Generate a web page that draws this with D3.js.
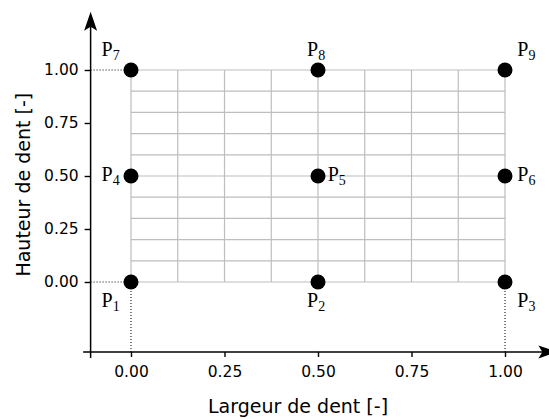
<!DOCTYPE html>
<html>
<head>
<meta charset="utf-8">
<script src="https://cdn.jsdelivr.net/npm/d3@7"></script>
<style>
  html, body { margin: 0; padding: 0; background: #fff; }
  svg { display: block; }
</style>
</head>
<body>
<svg id="chart" width="549" height="419"></svg>
<script>
// ---- data ----
const pointX = [0, 0.5, 1, 0, 0.5, 1, 0, 0.5, 1];
const pointY = [0, 0, 0, 0.5, 0.5, 0.5, 1, 1, 1];
const pointLabels = ["1", "2", "3", "4", "5", "6", "7", "8", "9"];
const xTicks = [0, 0.25, 0.5, 0.75, 1];
const yTicks = [0, 0.25, 0.5, 0.75, 1];
const gridXStep = [0, 0.125, 0.25, 0.375, 0.5, 0.625, 0.75, 0.875, 1];
const gridYStep = [0, 0.1, 0.2, 0.3, 0.4, 0.5, 0.6, 0.7, 0.8, 0.9, 1];
const xTitle = "Largeur de dent [-]";
const yTitle = "Hauteur de dent [-]";
// dotted projection guides: [x, y] of the points projected to axes
const hGuides = [0, 1];   // y values projected horizontally onto y-axis
const vGuides = [0, 1];   // x values projected vertically onto x-axis

// ---- layout ----
const svg = d3.select("#chart");
const x = d3.scaleLinear().domain([0, 1]).range([131, 505]);
const y = d3.scaleLinear().domain([0, 1]).range([282, 70]);
const xAxisY = -0.33;   // data y where x axis sits
const yAxisX = -0.108;  // data x where y axis sits
const xExtent = [-0.128, 1.14];
const yExtent = [-0.358, 1.275];

const tickFont = "DejaVu Sans, sans-serif";

// grid
const grid = svg.append("g").attr("stroke", "#bdbdbd").attr("stroke-width", 1.2);
grid.selectAll("line.v").data(gridXStep).join("line")
  .attr("x1", d => x(d)).attr("x2", d => x(d))
  .attr("y1", y(0)).attr("y2", y(1));
grid.selectAll("line.h").data(gridYStep).join("line")
  .attr("y1", d => y(d)).attr("y2", d => y(d))
  .attr("x1", x(0)).attr("x2", x(1));

// dotted guides
const guides = svg.append("g").attr("stroke", "#000").attr("stroke-width", 1)
  .attr("stroke-dasharray", "1,2");
guides.selectAll("line.h").data(hGuides).join("line")
  .attr("x1", x(yAxisX)).attr("x2", d => x(0))
  .attr("y1", d => y(d)).attr("y2", d => y(d));
guides.selectAll("line.v").data(vGuides).join("line")
  .attr("x1", d => x(d)).attr("x2", d => x(d))
  .attr("y1", y(0)).attr("y2", y(xAxisY));

// axes lines
const axisG = svg.append("g");
axisG.append("line")
  .attr("x1", x(xExtent[0])).attr("x2", x(xExtent[1]) - 14)
  .attr("y1", y(xAxisY)).attr("y2", y(xAxisY))
  .attr("stroke", "#000").attr("stroke-width", 1.5);
axisG.append("line")
  .attr("x1", x(yAxisX)).attr("x2", x(yAxisX))
  .attr("y1", y(yExtent[0])).attr("y2", y(yExtent[1]) + 14)
  .attr("stroke", "#000").attr("stroke-width", 1.5);

// arrow heads
const tipX = [x(xExtent[1]), y(xAxisY)];
axisG.append("path")
  .attr("d", `M${tipX[0]},${tipX[1]} L${tipX[0]-19},${tipX[1]-6.5} L${tipX[0]-15},${tipX[1]} L${tipX[0]-19},${tipX[1]+6.5} Z`)
  .attr("fill", "#000");
const tipY = [x(yAxisX), y(yExtent[1])];
axisG.append("path")
  .attr("d", `M${tipY[0]},${tipY[1]} L${tipY[0]-6.5},${tipY[1]+19} L${tipY[0]},${tipY[1]+15} L${tipY[0]+6.5},${tipY[1]+19} Z`)
  .attr("fill", "#000");

// ticks
const xAxis = d3.axisBottom(x).tickValues(xTicks).tickFormat(d3.format(".2f"))
  .tickSize(5).tickPadding(9);
const gx = svg.append("g").attr("transform", `translate(0,${y(xAxisY)})`).call(xAxis);
const yAxis = d3.axisLeft(y).tickValues(yTicks).tickFormat(d3.format(".2f"))
  .tickSize(6).tickPadding(6);
const gy = svg.append("g").attr("transform", `translate(${x(yAxisX)},0)`).call(yAxis);
[gx, gy].forEach(g => {
  g.select(".domain").remove();
  g.selectAll(".tick line").attr("stroke", "#000").attr("stroke-width", 1.4);
  g.selectAll(".tick text").attr("fill", "#000")
    .style("font-family", tickFont).style("font-size", "15.5px");
});

// axis titles
svg.append("text").text(xTitle)
  .attr("x", 298).attr("y", 413)
  .attr("text-anchor", "middle")
  .style("font-family", tickFont).style("font-size", "19px").attr("fill", "#000");
svg.append("text").text(yTitle)
  .attr("transform", "translate(29.5,184.7) rotate(-90)")
  .attr("text-anchor", "middle")
  .style("font-family", tickFont).style("font-size", "19px").attr("fill", "#000");

// points
const pts = pointX.map((px, i) => ({ x: px, y: pointY[i], label: pointLabels[i] }));
svg.append("g").selectAll("circle").data(pts).join("circle")
  .attr("cx", d => x(d.x)).attr("cy", d => y(d.y)).attr("r", 7.5)
  .attr("fill", "#000");

// label placement (pixel offsets from point, by column/row)
function labelDX(d) { return d.x === 0 ? -29.5 : (d.x === 1 ? 12.3 : (d.y === 0.5 ? 9.7 : -11)); }
function labelDY(d) { return d.y === 1 ? -14.5 : (d.y === 0.5 ? 4.5 : 24.7); }

const lbl = svg.append("g").selectAll("text").data(pts).join("text")
  .attr("x", d => x(d.x) + labelDX(d))
  .attr("y", d => y(d.y) + labelDY(d))
  .style("font-family", "Liberation Serif, Times New Roman, serif")
  .style("font-size", "20px").attr("fill", "#000");
lbl.append("tspan").text("P");
lbl.append("tspan").text(d => d.label)
  .attr("dy", 4).style("font-size", "14px");
</script>
</body>
</html>
